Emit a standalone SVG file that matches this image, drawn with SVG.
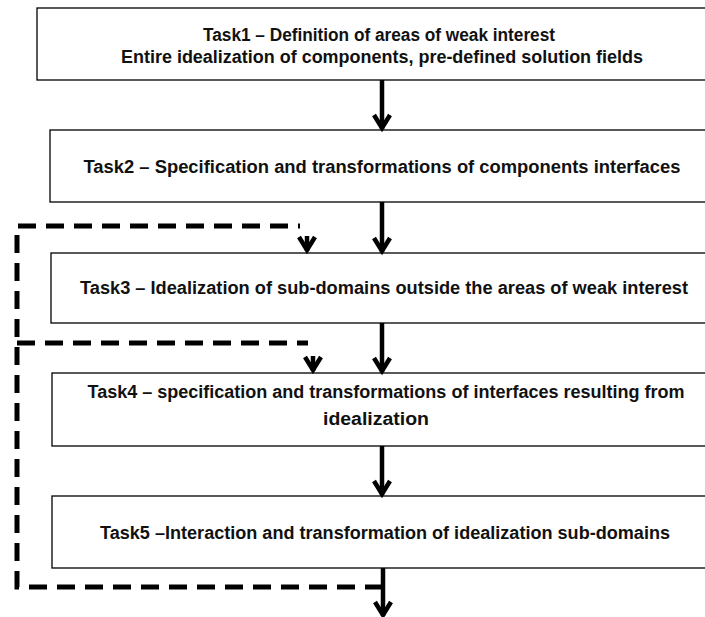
<svg xmlns="http://www.w3.org/2000/svg" width="705" height="617" viewBox="0 0 705 617">
<style>
.box{fill:#fff;stroke:#000;stroke-width:1.3}
.t{font-family:"Liberation Sans",Arial,sans-serif;font-size:17.5px;font-weight:bold;fill:#111;text-anchor:middle}
.solid{fill:none;stroke:#000;stroke-width:4.5}
.dash{fill:none;stroke:#000;stroke-width:5;stroke-dasharray:18,10}
</style>
<defs>
<marker id="ah" markerUnits="userSpaceOnUse" viewBox="-20 -12 24 24" refX="0" refY="0" markerWidth="24" markerHeight="24" orient="auto" overflow="visible">
<path d="M-14,-8 L-1,0 L-14,8" fill="none" stroke="#000" stroke-width="4.5"/>
</marker>
</defs>
<rect width="705" height="617" fill="#fff"/>
<g id="task1"><rect class="box" x="37" y="8" width="700" height="72"/>
<text class="t" x="379" y="41" textLength="352" lengthAdjust="spacingAndGlyphs">Task1 – Definition of areas of weak interest</text>
<text class="t" x="382" y="63" textLength="522" lengthAdjust="spacingAndGlyphs">Entire idealization of components, pre-defined solution fields</text></g>
<g id="task2"><rect class="box" x="50" y="130" width="690" height="72"/>
<text class="t" x="382" y="173" textLength="597" lengthAdjust="spacingAndGlyphs">Task2 – Specification  and transformations of components interfaces</text></g>
<g id="task3"><rect class="box" x="51" y="253" width="690" height="70"/>
<text class="t" x="384" y="294" textLength="608" lengthAdjust="spacingAndGlyphs">Task3 – Idealization of  sub-domains outside the areas of weak interest</text></g>
<g id="task4"><rect class="box" x="52" y="373" width="690" height="73"/>
<text class="t" x="386" y="398" textLength="597" lengthAdjust="spacingAndGlyphs">Task4 – specification  and transformations of interfaces resulting from</text>
<text class="t" x="376" y="425" textLength="106" lengthAdjust="spacingAndGlyphs">idealization</text></g>
<g id="task5"><rect class="box" x="52" y="496" width="690" height="72"/>
<text class="t" x="385" y="539" textLength="570" lengthAdjust="spacingAndGlyphs">Task5 –Interaction and transformation of idealization sub-domains</text></g>
<g id="connectors">
<line class="solid" x1="382" y1="80" x2="382" y2="129" marker-end="url(#ah)"/>
<line class="solid" x1="382" y1="202" x2="382" y2="252" marker-end="url(#ah)"/>
<line class="solid" x1="382" y1="323" x2="382" y2="372" marker-end="url(#ah)"/>
<line class="solid" x1="382" y1="446" x2="382" y2="495" marker-end="url(#ah)"/>
<line class="solid" x1="383" y1="568" x2="383" y2="616" marker-end="url(#ah)"/>
<path class="dash" d="M383,587 H17 V226 H300"/>
<line class="solid" x1="307" y1="236" x2="307" y2="251" marker-end="url(#ah)"/>
<path class="dash" d="M17,343 H308"/>
<line class="solid" x1="313" y1="356" x2="313" y2="371" marker-end="url(#ah)"/>
</g>
</svg>
